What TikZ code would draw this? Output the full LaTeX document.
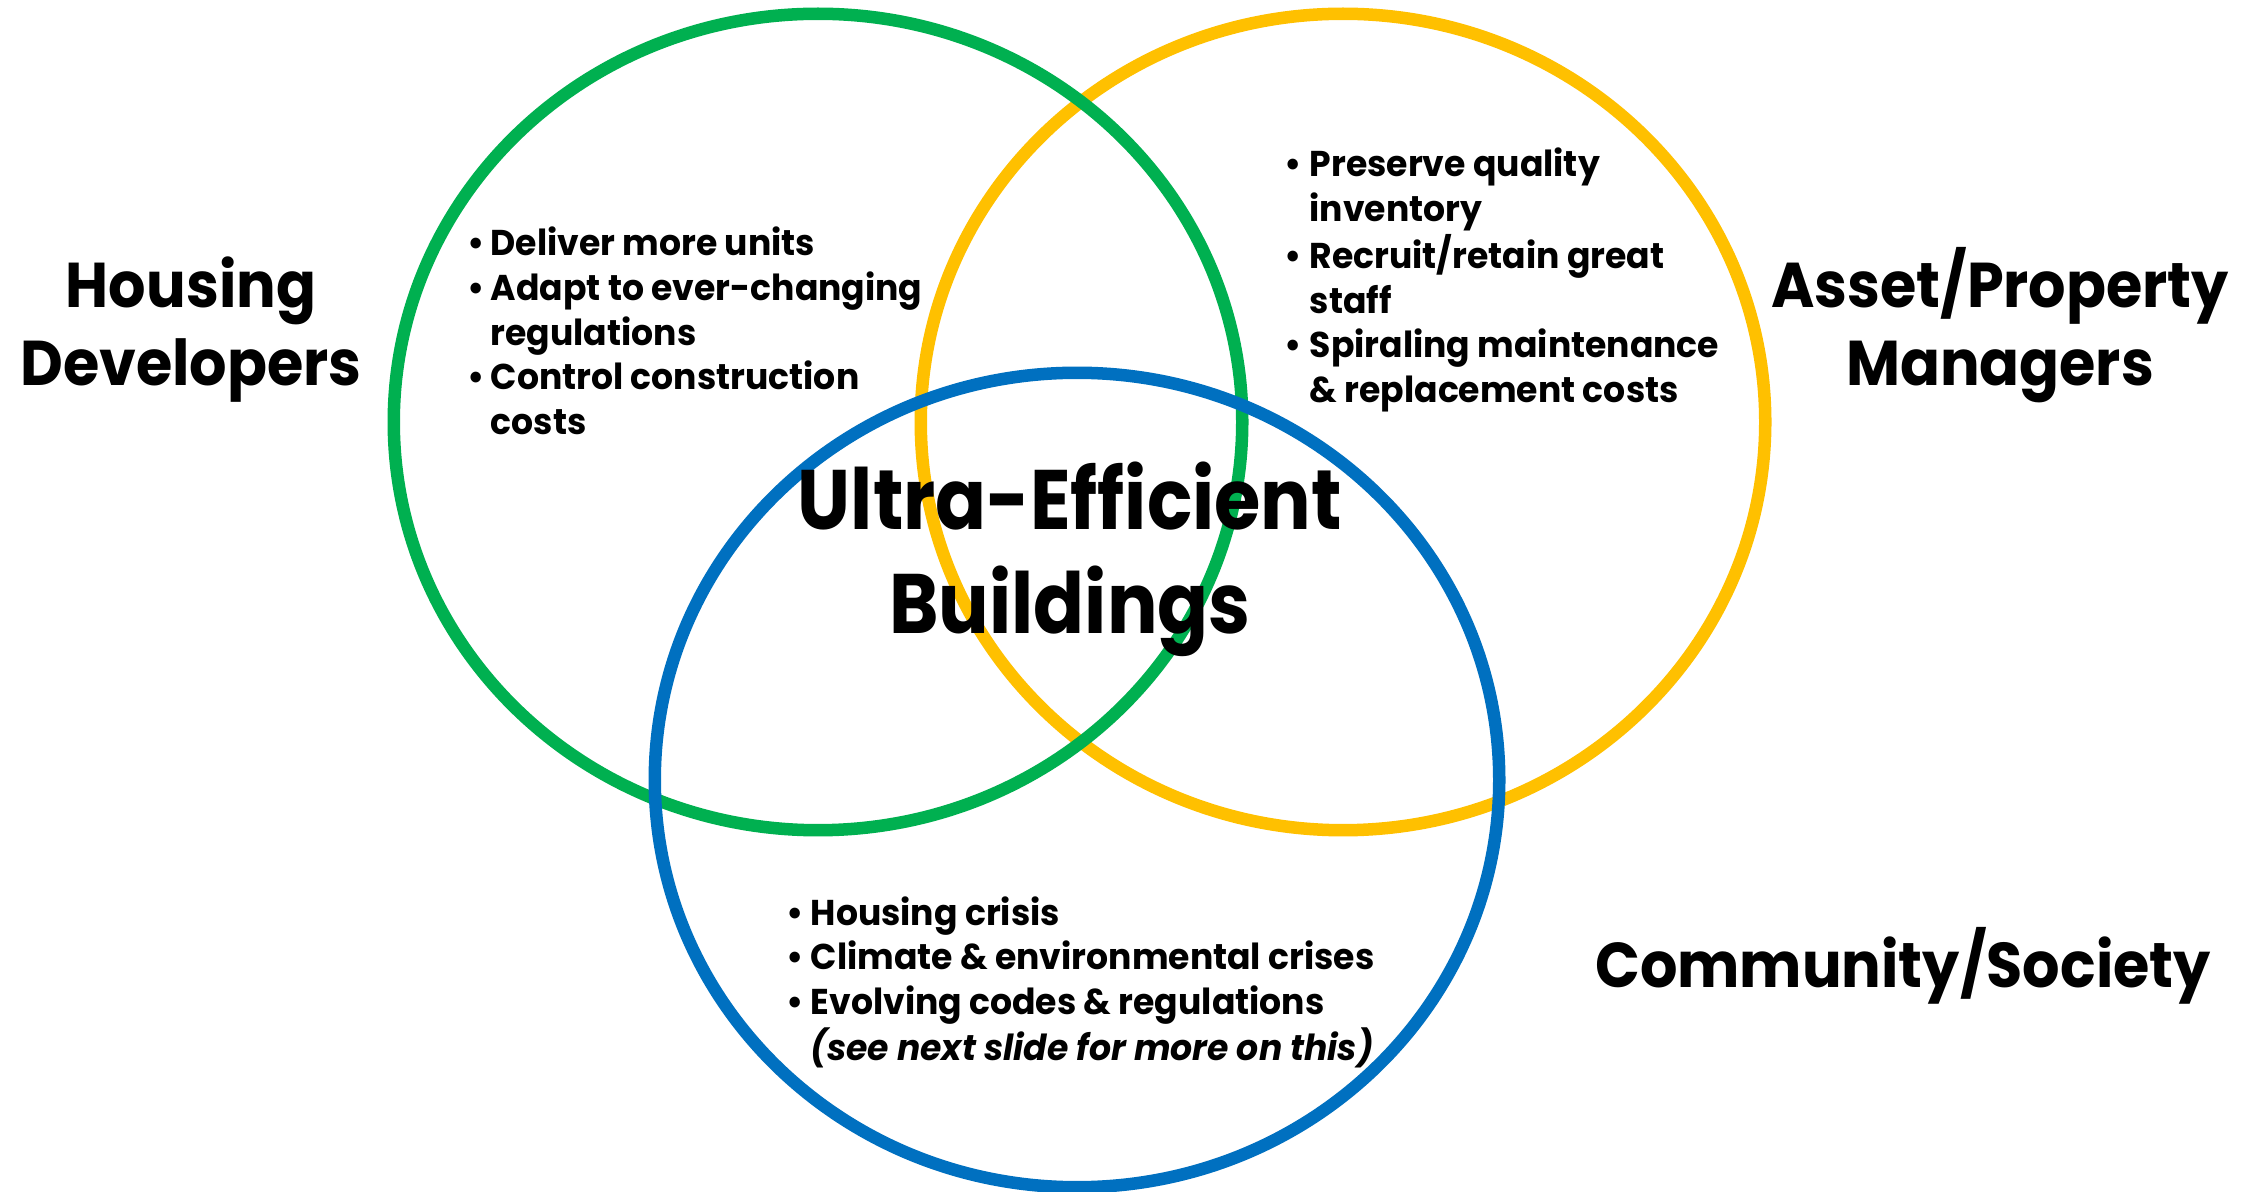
\documentclass[tikz,border=0pt]{standalone}
\usepackage{fontspec}
\setmainfont{Poppins}
\newfontfamily\listfont{Poppins}[FakeStretch=0.965]
\newfontfamily\labelfont{Poppins}[FakeStretch=0.93]
\newfontfamily\titlefont{Poppins}[FakeStretch=0.89]
\usetikzlibrary{shapes.geometric}
\definecolor{vgreen}{HTML}{00B050}
\definecolor{vyellow}{HTML}{FFC000}
\definecolor{vblue}{HTML}{0070C0}
\newcommand{\bul}{\textbullet}
\begin{document}
\begin{tikzpicture}[x=0.01cm,y=-0.01cm,
  ring/.style={ellipse, draw=#1, line width=1.25mm, inner sep=0pt, outer sep=0pt},
  listtext/.style={anchor=base west, inner sep=0pt, font=\listfont\bfseries\fontsize{10.2}{12.66}\selectfont},
  grouplabel/.style={anchor=base, inner sep=0pt, font=\labelfont\bfseries\fontsize{18}{21.9}\selectfont},
  titletext/.style={anchor=base, inner sep=0pt, font=\titlefont\bfseries\fontsize{24}{29.3}\selectfont}]
\fill[white] (0,0) rectangle (2252,1192);
\useasboundingbox (0,0) rectangle (2252,1192);

% the three overlapping rings, yellow below green below blue
\node[ring=vyellow, minimum width=8.44cm, minimum height=8.16cm] (yellow) at (1343,422) {};
\node[ring=vgreen,  minimum width=8.48cm, minimum height=8.16cm] (green)  at (818,422) {};
\node[ring=vblue,   minimum width=8.44cm, minimum height=8.14cm] (blue)   at (1077,780) {};

% group names outside the rings
\node[grouplabel] (devs) at (191,308) {\begin{tabular}[t]{@{}c@{}}Housing\\Developers\end{tabular}};
\node[grouplabel] (mgrs) at (2000,308) {\begin{tabular}[t]{@{}c@{}}Asset/Property\\Managers\end{tabular}};
\node[grouplabel] (soc) at (1903,987) {Community/Society};

% shared centre
\node[titletext] (title) at (1070,530) {\begin{tabular}[t]{@{}c@{}}Ultra-Efficient\\Buildings\end{tabular}};

% concerns of each group
\node[listtext] (devlist) at (467,256) {\begin{tabular}[t]{@{}p{2.3mm}@{}l@{}}
\bul & Deliver more units\\
\bul & Adapt to ever-changing\\
     & regulations\\
\bul & Control construction\\
     & costs
\end{tabular}};
\node[listtext] (mgrlist) at (1284,177) {\begin{tabular}[t]{@{}p{2.5mm}@{}l@{}}
\bul & Preserve quality\\
     & inventory\\
\bul & Recruit/retain great\\
     & staff\\
\bul & Spiraling maintenance\\
     & \& replacement costs
\end{tabular}};
\node[listtext] (soclist) at (786,925) {\begin{tabular}[t]{@{}p{2.4mm}@{}l@{}}
\bul & Housing crisis\\
\bul & Climate \& environmental crises\\
\bul & Evolving codes \& regulations\\
     & \textit{(see next slide for more on this)}
\end{tabular}};
\end{tikzpicture}
\end{document}
